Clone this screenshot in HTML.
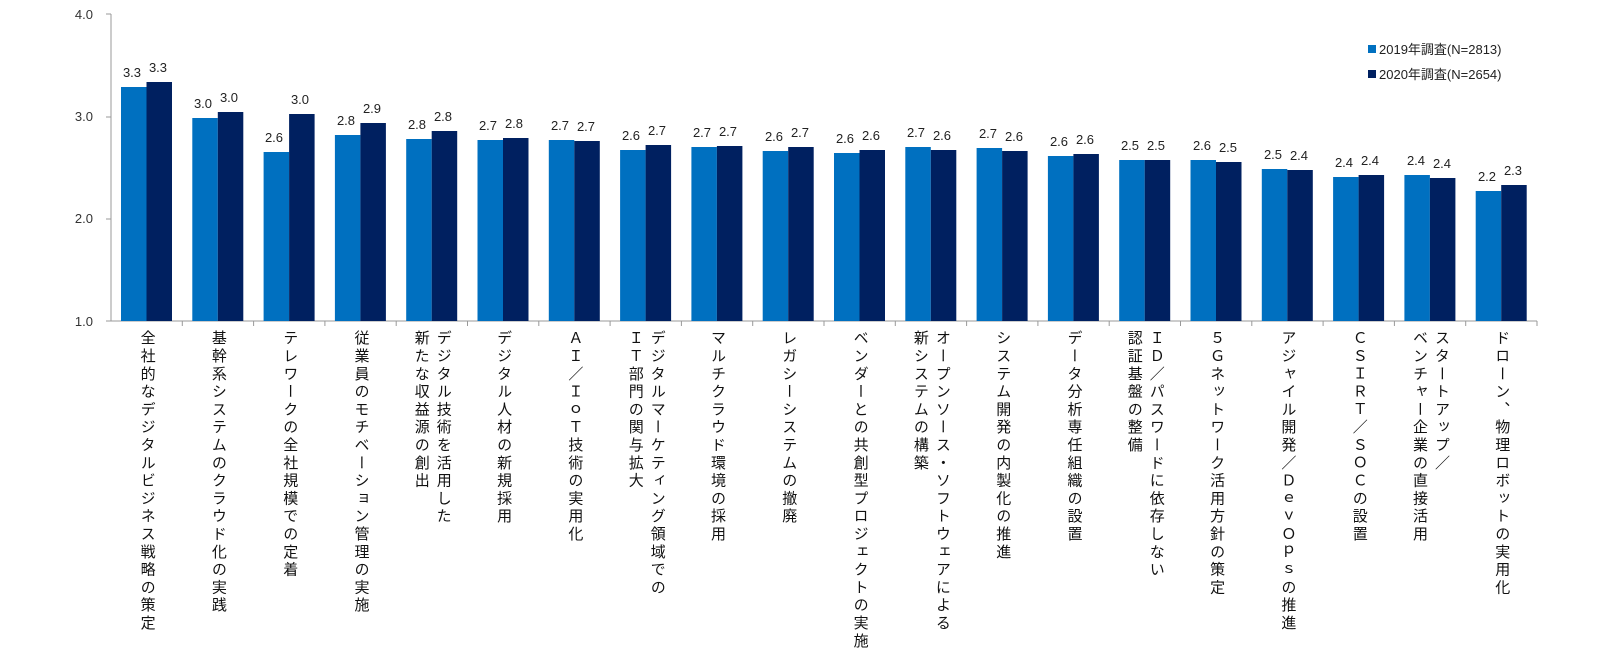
<!DOCTYPE html>
<html><head><meta charset="utf-8"><style>
body{margin:0;width:1600px;height:648px;background:#fff;position:relative;overflow:hidden;font-family:"Liberation Sans","Noto Sans CJK JP",sans-serif;}
svg{position:absolute;left:0;top:0}
.l{position:absolute;top:330px;writing-mode:vertical-rl;font-size:15px;letter-spacing:2.8px;line-height:22px;color:#111;transform:translateX(-50%);white-space:nowrap;font-family:"Liberation Sans","Noto Sans CJK JP",sans-serif;}
</style></head><body>
<svg width="1600" height="648" font-family="Liberation Sans, Noto Sans CJK JP, sans-serif">
<g fill="#333" font-size="13" text-anchor="end">
<text x="93" y="19">4.0</text><text x="93" y="121">3.0</text><text x="93" y="223">2.0</text><text x="93" y="326">1.0</text>
</g>
<g stroke="#999" stroke-width="1">
<line x1="111" y1="14" x2="111" y2="321"/><line x1="106" y1="14" x2="111" y2="14"/><line x1="106" y1="117" x2="111" y2="117"/><line x1="106" y1="219" x2="111" y2="219"/>
<line x1="106" y1="321" x2="1537" y2="321"/>
<line x1="182.3" y1="321" x2="182.3" y2="326"/><line x1="253.6" y1="321" x2="253.6" y2="326"/><line x1="324.9" y1="321" x2="324.9" y2="326"/><line x1="396.2" y1="321" x2="396.2" y2="326"/><line x1="467.5" y1="321" x2="467.5" y2="326"/><line x1="538.8" y1="321" x2="538.8" y2="326"/><line x1="610.1" y1="321" x2="610.1" y2="326"/><line x1="681.4" y1="321" x2="681.4" y2="326"/><line x1="752.7" y1="321" x2="752.7" y2="326"/><line x1="824" y1="321" x2="824" y2="326"/><line x1="895.3" y1="321" x2="895.3" y2="326"/><line x1="966.6" y1="321" x2="966.6" y2="326"/><line x1="1037.9" y1="321" x2="1037.9" y2="326"/><line x1="1109.2" y1="321" x2="1109.2" y2="326"/><line x1="1180.5" y1="321" x2="1180.5" y2="326"/><line x1="1251.8" y1="321" x2="1251.8" y2="326"/><line x1="1323.1" y1="321" x2="1323.1" y2="326"/><line x1="1394.4" y1="321" x2="1394.4" y2="326"/><line x1="1465.7" y1="321" x2="1465.7" y2="326"/><line x1="1537" y1="321" x2="1537" y2="326"/>
</g>
<g fill="#0070c0">
<rect x="121" y="87" width="25.5" height="234"/><rect x="192.3" y="118" width="25.5" height="203"/><rect x="263.6" y="152" width="25.5" height="169"/><rect x="334.9" y="135" width="25.5" height="186"/><rect x="406.2" y="139" width="25.5" height="182"/><rect x="477.5" y="140" width="25.5" height="181"/><rect x="548.8" y="140" width="25.5" height="181"/><rect x="620.1" y="150" width="25.5" height="171"/><rect x="691.4" y="147" width="25.5" height="174"/><rect x="762.7" y="151" width="25.5" height="170"/><rect x="834" y="153" width="25.5" height="168"/><rect x="905.3" y="147" width="25.5" height="174"/><rect x="976.6" y="148" width="25.5" height="173"/><rect x="1047.9" y="156" width="25.5" height="165"/><rect x="1119.2" y="160" width="25.5" height="161"/><rect x="1190.5" y="160" width="25.5" height="161"/><rect x="1261.8" y="169" width="25.5" height="152"/><rect x="1333.1" y="177" width="25.5" height="144"/><rect x="1404.4" y="175" width="25.5" height="146"/><rect x="1475.7" y="191" width="25.5" height="130"/>
</g>
<g fill="#002060">
<rect x="146.5" y="82" width="25.5" height="239"/><rect x="217.8" y="112" width="25.5" height="209"/><rect x="289.1" y="114" width="25.5" height="207"/><rect x="360.4" y="123" width="25.5" height="198"/><rect x="431.7" y="131" width="25.5" height="190"/><rect x="503" y="138" width="25.5" height="183"/><rect x="574.3" y="141" width="25.5" height="180"/><rect x="645.6" y="145" width="25.5" height="176"/><rect x="716.9" y="146" width="25.5" height="175"/><rect x="788.2" y="147" width="25.5" height="174"/><rect x="859.5" y="150" width="25.5" height="171"/><rect x="930.8" y="150" width="25.5" height="171"/><rect x="1002.1" y="151" width="25.5" height="170"/><rect x="1073.4" y="154" width="25.5" height="167"/><rect x="1144.7" y="160" width="25.5" height="161"/><rect x="1216" y="162" width="25.5" height="159"/><rect x="1287.3" y="170" width="25.5" height="151"/><rect x="1358.6" y="175" width="25.5" height="146"/><rect x="1429.9" y="178" width="25.5" height="143"/><rect x="1501.2" y="185" width="25.5" height="136"/>
</g>
<g fill="#222" font-size="13" text-anchor="middle">
<text x="132" y="77">3.3</text><text x="158" y="72">3.3</text>
<text x="203" y="108">3.0</text><text x="229" y="102">3.0</text>
<text x="274" y="142">2.6</text><text x="300" y="104">3.0</text>
<text x="346" y="125">2.8</text><text x="372" y="113">2.9</text>
<text x="417" y="129">2.8</text><text x="443" y="121">2.8</text>
<text x="488" y="130">2.7</text><text x="514" y="128">2.8</text>
<text x="560" y="130">2.7</text><text x="586" y="131">2.7</text>
<text x="631" y="140">2.6</text><text x="657" y="135">2.7</text>
<text x="702" y="137">2.7</text><text x="728" y="136">2.7</text>
<text x="774" y="141">2.6</text><text x="800" y="137">2.7</text>
<text x="845" y="143">2.6</text><text x="871" y="140">2.6</text>
<text x="916" y="137">2.7</text><text x="942" y="140">2.6</text>
<text x="988" y="138">2.7</text><text x="1014" y="141">2.6</text>
<text x="1059" y="146">2.6</text><text x="1085" y="144">2.6</text>
<text x="1130" y="150">2.5</text><text x="1156" y="150">2.5</text>
<text x="1202" y="150">2.6</text><text x="1228" y="152">2.5</text>
<text x="1273" y="159">2.5</text><text x="1299" y="160">2.4</text>
<text x="1344" y="167">2.4</text><text x="1370" y="165">2.4</text>
<text x="1416" y="165">2.4</text><text x="1442" y="168">2.4</text>
<text x="1487" y="181">2.2</text><text x="1513" y="175">2.3</text>
</g>
<rect x="1368" y="45" width="8" height="8" fill="#0070c0"/>
<rect x="1368" y="70" width="8" height="8" fill="#002060"/>
<g fill="#222" font-size="13"><text x="1379" y="54">2019年調査(N=2813)</text><text x="1379" y="79">2020年調査(N=2654)</text></g>
</svg>
<div class="l" style="left:146.6px">全社的なデジタルビジネス戦略の策定</div>
<div class="l" style="left:217.9px">基幹系システムのクラウド化の実践</div>
<div class="l" style="left:289.2px">テレワークの全社規模での定着</div>
<div class="l" style="left:360.5px">従業員のモチベーション管理の実施</div>
<div class="l" style="left:431.8px">デジタル技術を活用した<br>新たな収益源の創出</div>
<div class="l" style="left:503.1px">デジタル人材の新規採用</div>
<div class="l" style="left:574.4px">ＡＩ／ＩｏＴ技術の実用化</div>
<div class="l" style="left:645.7px">デジタルマーケティング領域での<br>ＩＴ部門の関与拡大</div>
<div class="l" style="left:717px">マルチクラウド環境の採用</div>
<div class="l" style="left:788.3px">レガシーシステムの撤廃</div>
<div class="l" style="left:859.6px">ベンダーとの共創型プロジェクトの実施</div>
<div class="l" style="left:930.9px">オープンソース・ソフトウェアによる<br>新システムの構築</div>
<div class="l" style="left:1002.2px">システム開発の内製化の推進</div>
<div class="l" style="left:1073.5px">データ分析専任組織の設置</div>
<div class="l" style="left:1144.8px">ＩＤ／パスワードに依存しない<br>認証基盤の整備</div>
<div class="l" style="left:1216.1px">５Ｇネットワーク活用方針の策定</div>
<div class="l" style="left:1287.4px">アジャイル開発／ＤｅｖＯｐｓの推進</div>
<div class="l" style="left:1358.7px">ＣＳＩＲＴ／ＳＯＣの設置</div>
<div class="l" style="left:1430px">スタートアップ／<br>ベンチャー企業の直接活用</div>
<div class="l" style="left:1501.3px">ドローン、物理ロボットの実用化</div>
</body></html>
